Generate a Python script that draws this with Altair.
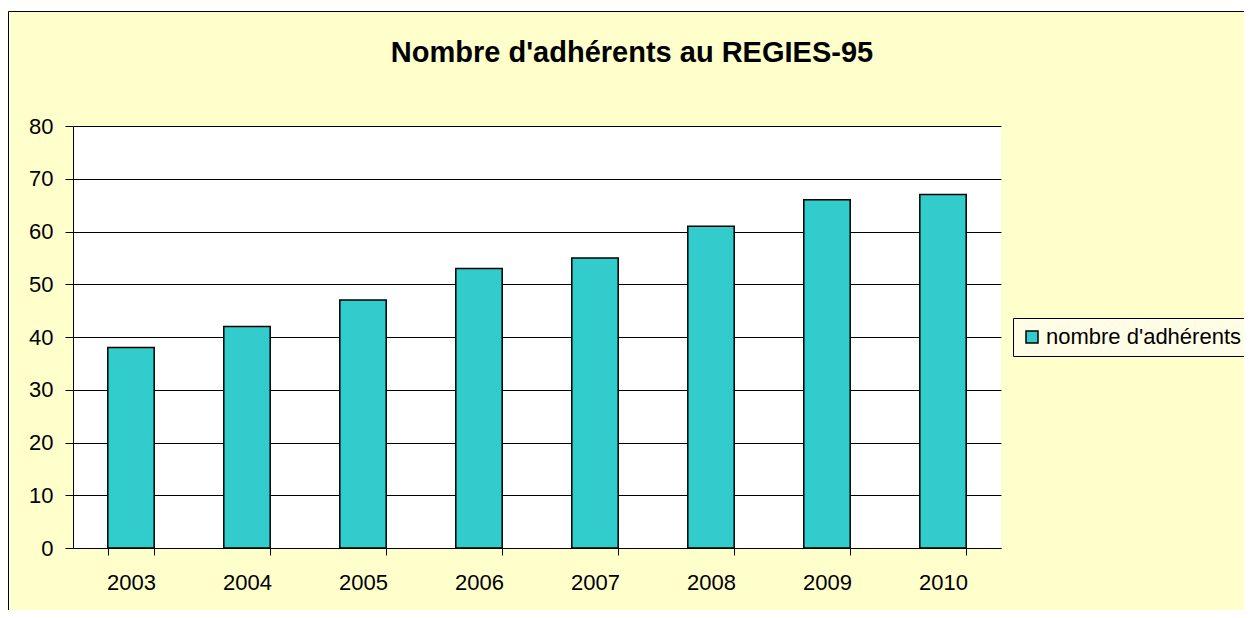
import altair as alt
import pandas as pd

years = ["2003", "2004", "2005", "2006", "2007", "2008", "2009", "2010"]
members = [38, 42, 47, 53, 55, 61, 66, 67]
series = ["nombre d'adhérents"] * len(years)
title_text = ["Nombre d'adhérents au REGIES-95"]
y_ticks = [0, 10, 20, 30, 40, 50, 60, 70, 80]

FONT = "Arial, Liberation Sans, sans-serif"
W, H = 928, 422

df = pd.DataFrame({"year": years, "value": members, "series": series})

bars = alt.Chart(df).mark_bar(stroke="black", strokeWidth=1.5).encode(
    x=alt.X("year:O", title=None,
            scale=alt.Scale(paddingInner=0.6, paddingOuter=0.3),
            axis=alt.Axis(tickBand="extent", labelAngle=0, labelFontSize=22,
                          labelFont=FONT, labelColor="black", labelPadding=17,
                          tickSize=7, tickColor="black", domainColor="black",
                          grid=False)),
    y=alt.Y("value:Q", title=None,
            scale=alt.Scale(domain=[0, 80]),
            axis=alt.Axis(values=y_ticks, labelFontSize=22, labelFont=FONT,
                          labelColor="black", labelPadding=12, tickSize=8,
                          tickColor="black", domainColor="black",
                          gridColor="black", gridOpacity=1, gridWidth=1)),
    fill=alt.Fill("series:N", title=None,
                  scale=alt.Scale(range=["#33CCCC"]),
                  legend=alt.Legend(orient="none", legendX=940, legendY=192,
                                    fillColor="#FFFDE6", strokeColor="black",
                                    padding=8, symbolType="square",
                                    symbolSize=144, symbolStrokeColor="black",
                                    symbolStrokeWidth=1.5, labelFontSize=22,
                                    labelFont=FONT, labelColor="black",
                                    labelOffset=3, labelLimit=500)),
)

one = pd.DataFrame({"t": title_text})

frame = alt.Chart(one).mark_rect(fill="transparent", stroke="black", strokeWidth=1).encode(
    x=alt.value(-64.5), x2=alt.value(1400), y=alt.value(-114.5), y2=alt.value(700)
)
top_strip = alt.Chart(one).mark_rect(fill="white").encode(
    x=alt.value(-80), x2=alt.value(1400), y=alt.value(-130), y2=alt.value(-115)
)
title = alt.Chart(one).mark_text(fontSize=29, font=FONT, fontWeight="bold",
                                  color="black", baseline="alphabetic", align="center").encode(
    text="t:N", x=alt.value(559), y=alt.value(-64)
)

chart = alt.layer(top_strip, frame, bars, title).properties(
    width=W, height=H,
    autosize=alt.AutoSizeParams(type="none"),
    padding={"left": 65, "top": 118, "right": 243, "bottom": 62},
    background="#FFFFCC",
).configure_view(fill="white", stroke=None)

chart.save("out.html", embed_options={"renderer": "svg", "actions": False})
